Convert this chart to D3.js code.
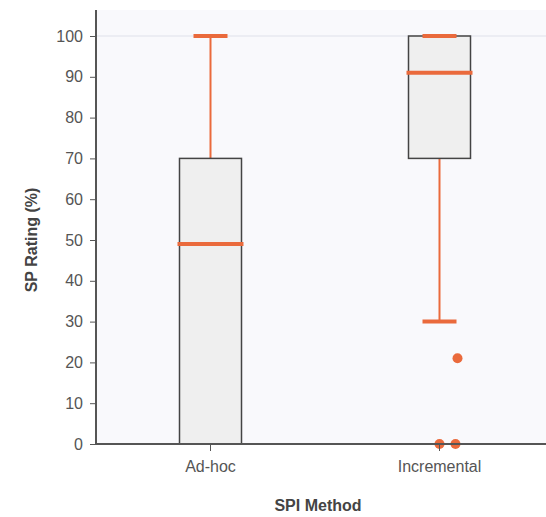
<!DOCTYPE html>
<html>
<head>
<meta charset="utf-8">
<script src="https://cdn.jsdelivr.net/npm/d3@7"></script>
<style>
  body { margin: 0; background: #fff; }
  text { font-family: "Liberation Sans", Arial, sans-serif; }
</style>
</head>
<body>
<svg id="chart" width="546" height="517"></svg>
<script>
// datos
const categories = ["Ad-hoc", "Incremental"];
const lowWhisker = [0, 30];
const q1 = [0, 70];
const median = [49, 91];
const q3 = [70, 100];
const highWhisker = [100, 100];
const outliers = [
  { cat: "Incremental", value: 21, dx: 18 },
  { cat: "Incremental", value: 0, dx: 0 },
  { cat: "Incremental", value: 0, dx: 16 }
];
const yTicks = [0, 10, 20, 30, 40, 50, 60, 70, 80, 90, 100];

const orange = "#ea6a3c";
const svg = d3.select("#chart");

const x = d3.scaleBand().domain(categories).range([96, 554]).padding(0);
const y = d3.scaleLinear().domain([0, 100]).range([444, 36]);

// fondo del área de trazado
svg.append("rect")
  .attr("x", 96).attr("y", 10).attr("width", 460).attr("height", 434)
  .attr("fill", "#f9f9fc");

// línea de cuadrícula en 100
svg.append("line")
  .attr("x1", 96).attr("x2", 546)
  .attr("y1", y(100)).attr("y2", y(100))
  .attr("stroke", "#dfe1ea").attr("stroke-width", 1);

const boxes = categories.map((c, i) => ({
  cat: c, lo: lowWhisker[i], q1: q1[i], med: median[i], q3: q3[i], hi: highWhisker[i]
}));

const g = svg.append("g")
  .selectAll("g")
  .data(boxes)
  .join("g")
  .attr("transform", d => `translate(${x(d.cat) + x.bandwidth() / 2},0)`);

// bigotes
g.append("line")
  .attr("x1", 0).attr("x2", 0)
  .attr("y1", d => y(d.q3)).attr("y2", d => y(d.hi))
  .attr("stroke", orange).attr("stroke-width", 2);
g.append("line")
  .attr("x1", 0).attr("x2", 0)
  .attr("y1", d => y(d.lo)).attr("y2", d => y(d.q1))
  .attr("stroke", orange).attr("stroke-width", 2);

// caja
g.append("rect")
  .attr("x", -31).attr("width", 62)
  .attr("y", d => y(d.q3)).attr("height", d => y(d.q1) - y(d.q3))
  .attr("fill", "#efefef").attr("stroke", "#444").attr("stroke-width", 1.5);

// topes de bigotes
g.append("line")
  .attr("x1", -17).attr("x2", 17)
  .attr("y1", d => y(d.hi)).attr("y2", d => y(d.hi))
  .attr("stroke", orange).attr("stroke-width", 4);
g.filter(d => d.lo !== d.q1).append("line")
  .attr("x1", -17).attr("x2", 17)
  .attr("y1", d => y(d.lo)).attr("y2", d => y(d.lo))
  .attr("stroke", orange).attr("stroke-width", 4);

// mediana
g.append("line")
  .attr("x1", -33).attr("x2", 33)
  .attr("y1", d => y(d.med)).attr("y2", d => y(d.med))
  .attr("stroke", orange).attr("stroke-width", 4);

// valores atípicos
svg.append("g")
  .selectAll("circle")
  .data(outliers)
  .join("circle")
  .attr("cx", d => x(d.cat) + x.bandwidth() / 2 + d.dx)
  .attr("cy", d => y(d.value))
  .attr("r", 5)
  .attr("fill", orange);

// ejes
const yAxis = svg.append("g")
  .attr("transform", "translate(96,0)")
  .call(d3.axisLeft(y).tickValues(yTicks).tickSize(6).tickPadding(7));
yAxis.select(".domain").remove();
yAxis.selectAll(".tick line").attr("stroke", "#555");
yAxis.selectAll("text").attr("fill", "#555").style("font-size", "16px");

svg.append("line")
  .attr("x1", 96).attr("x2", 96).attr("y1", 10).attr("y2", 445)
  .attr("stroke", "#555").attr("stroke-width", 2);

const xAxis = svg.append("g")
  .attr("transform", "translate(0,444)")
  .call(d3.axisBottom(x).tickSize(7).tickPadding(10));
xAxis.select(".domain").remove();
xAxis.selectAll(".tick line").attr("stroke", "#555");
xAxis.selectAll("text").attr("fill", "#555").style("font-size", "16px");

svg.append("line")
  .attr("x1", 95).attr("x2", 546).attr("y1", 444).attr("y2", 444)
  .attr("stroke", "#555").attr("stroke-width", 2);

// títulos de ejes
svg.append("text")
  .attr("x", 318).attr("y", 511)
  .attr("text-anchor", "middle")
  .attr("fill", "#444")
  .style("font-size", "16px").style("font-weight", "bold")
  .text("SPI Method");

svg.append("text")
  .attr("transform", "translate(37,240) rotate(-90)")
  .attr("text-anchor", "middle")
  .attr("fill", "#444")
  .style("font-size", "16px").style("font-weight", "bold")
  .text("SP Rating (%)");
</script>
</body>
</html>
